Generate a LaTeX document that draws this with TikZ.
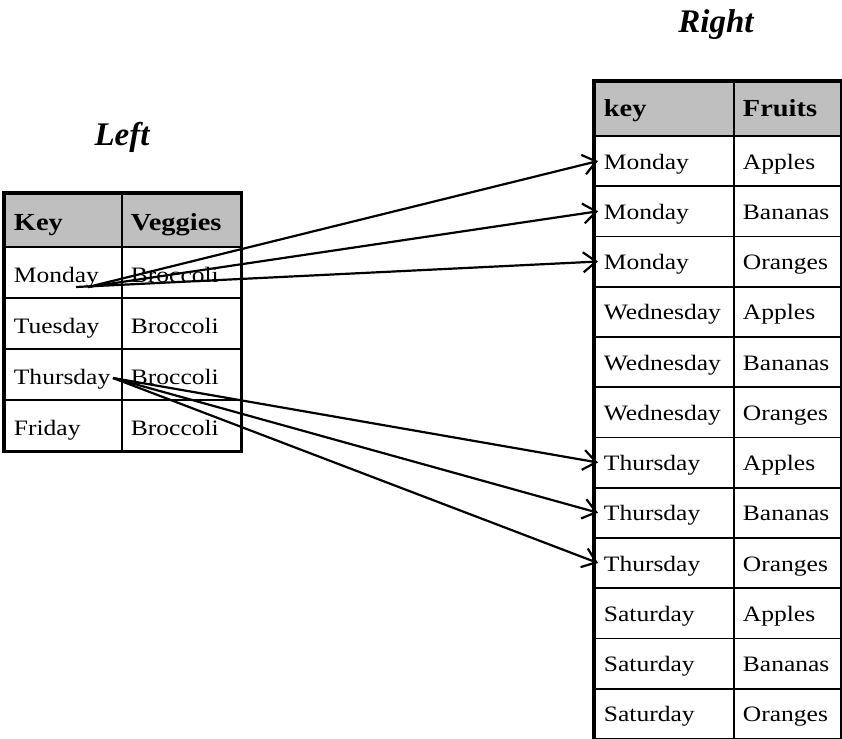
\documentclass[tikz,border=0pt]{standalone}
\usepackage{fontspec}
\setmainfont{Liberation Serif}[FakeStretch=1.16]
\newfontfamily\titlefont{Liberation Serif}
\usetikzlibrary{arrows.meta}
\definecolor{headgray}{HTML}{BFBFBF}

\tikzset{
  cell/.style={draw, line width=1.8pt, anchor=north west, inner xsep=9pt, inner ysep=0pt,
    align=left, text height=17pt, text depth=1pt, font=\fontsize{22}{26}\selectfont},
  headcell/.style={cell, fill=headgray, font=\fontsize{24.5}{28}\selectfont\bfseries},
  lowtext/.style={text height=20pt, text depth=0pt},
  matcharrow/.style={line width=2.2pt, -{Straight Barb[length=13pt,width=20pt,line width=2.2pt]}},
  title/.style={font=\titlefont\fontsize{33}{38}\selectfont\bfseries\itshape}
}

\begin{document}
\begin{tikzpicture}[x=1pt,y=-1pt]
  \useasboundingbox (0,0) rectangle (842,738);

  % Table for Left
  \node[title] (lefttitle) at (122,137) {Left};
  \node[headcell, lowtext, text width=99pt, minimum height=53pt] (lk0) at (4,193) {Key};
  \node[headcell, lowtext, text width=101pt, minimum height=53pt] (lv0) at (121,193) {Veggies};
  \foreach \day [count=\i] in {Monday, Tuesday, Thursday, Friday} {
    \node[cell, lowtext, text width=99pt, minimum height=51pt] (lk\i) at (4,195+51*\i) {\day};
    \node[cell, lowtext, text width=101pt, minimum height=51pt] (lv\i) at (121,195+51*\i) {Broccoli};
  }
  \draw[line width=3.2pt] (lk0.north west) rectangle (lv4.south east);

  % Table for Right
  \node[title] (righttitle) at (716,25) {Right};
  \node[headcell, text width=121pt, minimum height=54pt] (rk0) at (594,81) {key};
  \node[headcell, text width=89pt, minimum height=54pt] (rf0) at (733,81) {Fruits};
  \foreach \day [count=\d] in {Monday, Wednesday, Thursday, Saturday} {
    \foreach \fruit [count=\f] in {Apples, Bananas, Oranges} {
      \pgfmathtruncatemacro{\n}{3*(\d-1)+\f}
      \node[cell, text width=121pt, minimum height=50.25pt] (rk\n) at (594,84.75+50.25*\n) {\day};
      \node[cell, text width=89pt, minimum height=50.25pt] (rf\n) at (733,84.75+50.25*\n) {\fruit};
    }
  }
  \draw[line width=3.2pt] (rk0.north west) rectangle (rf12.south east);

  % Matches for Monday
  \coordinate (monsrc) at (88,287);
  \coordinate (monsrcb) at (76,287);
  \draw[matcharrow] (monsrc) -- ([xshift=4pt]rk1.west);
  \draw[matcharrow] (monsrc) -- ([xshift=4pt]rk2.west);
  \draw[matcharrow] (monsrcb) -- ([xshift=4pt]rk3.west);

  % Matches for Thursday
  \coordinate (thusrc) at (113,378);
  \draw[matcharrow] (thusrc) -- ([xshift=4pt]rk7.west);
  \draw[matcharrow] (thusrc) -- ([xshift=4pt]rk8.west);
  \draw[matcharrow] (thusrc) -- ([xshift=4pt]rk9.west);
\end{tikzpicture}
\end{document}
